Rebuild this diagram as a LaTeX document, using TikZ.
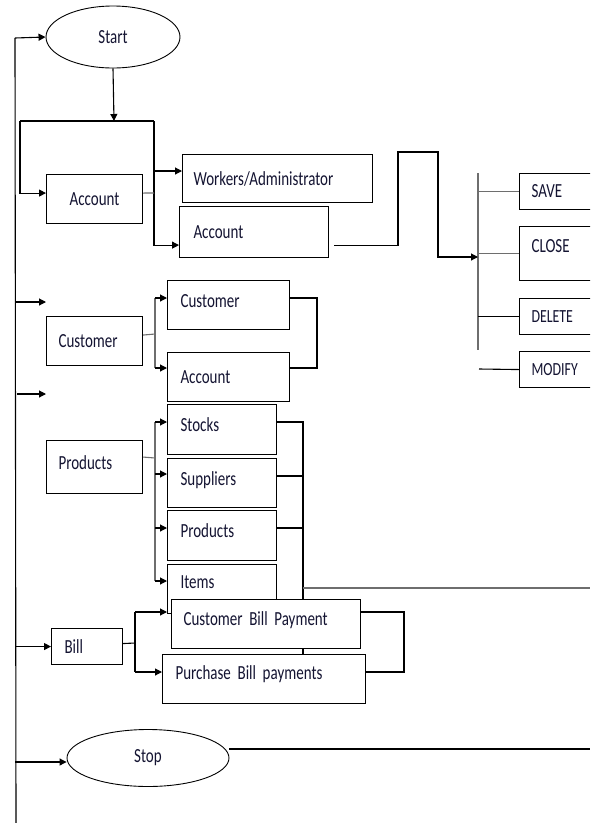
\documentclass[tikz,border=0pt]{standalone}
\usepackage{fontspec}
\setmainfont{Carlito}[FakeStretch=0.75]
\usetikzlibrary{arrows.meta, shapes.geometric}
\definecolor{ink}{RGB}{20,20,50}
\definecolor{linegray}{RGB}{110,110,110}
\newcommand{\labelfont}{\fontsize{20}{22}\selectfont\spaceskip=3.5pt plus 1pt\relax}

\begin{document}
\begin{tikzpicture}[
x=1pt, y=-1pt,
font=\labelfont,
box/.style={
draw,
rectangle,
line width=1.1pt,
fill=white,
text=ink,
inner sep=0 pt,
anchor=north west,
},
lbox/.style={box, align=left, text width=#1},
oval/.style={ellipse, draw, line width=0.9pt, inner sep=0 pt, text=ink},
link/.style={line width=1.1pt},
glink/.style={line width=1.1pt, draw=linegray},
arr/.style={link, -{Triangle[length=7pt, width=7pt]}},
]
\useasboundingbox (0,0) rectangle (590,823);
\clip (0,0) rectangle (590,823);

% main line
\path
(15,38) coordinate(top)
(16,823) coordinate(bot)
;
\node [oval, minimum width=134pt, minimum height=62pt] at (113,37) (start) {Start};
\draw [link] (bot) -- (top);
\draw [arr] (top) -- (start.west);

% account
\node [box, minimum width=96pt, minimum height=49pt] at (46,174) (acc) {Account};
\node [lbox=168pt, minimum width=190pt, minimum height=48pt] at (182,154) (work) {Workers/Administrator};
\node [lbox=121pt, minimum width=149pt, minimum height=51pt] at (179,206) (acc2) {Account};

\path
(114,121) coordinate(fr)
(20,121) coordinate(frl)
(154,121) coordinate(frr)
;
\draw [arr] (start.south) -- (fr);
\draw [link] (frl) -- (frr);
\draw [arr] (frl) |- ([yshift=6pt]acc.west);
\draw [arr] (frr) |- ([yshift=13pt]acc2.south west);
\draw [glink] ([yshift=6pt]acc.east) -- (frr |- 0,193);
\draw [arr] (frr |- 0,171) -- (work.west |- 0,171);

% options
\node [lbox=57pt, minimum width=81pt, minimum height=36pt] at (519,173) (save) {SAVE};
\node [lbox=57pt, minimum width=81pt, minimum height=54pt, text depth=16pt] at (519,226) (close) {CLOSE};
\node [lbox=57pt, minimum width=81pt, minimum height=36pt, font=\fontsize{18.5}{20}\selectfont] at (519,298) (delete) {DELETE};
\node [lbox=57pt, minimum width=81pt, minimum height=36pt, font=\fontsize{18.5}{20}\selectfont] at (519,351) (modify) {MODIFY};

\path
(478,173) coordinate(bustop)
(478,350) coordinate(busbot)
(479,369) coordinate(modl)
;
\draw [glink] (bustop) -- (busbot);
\draw [arr] ([xshift=5pt, yshift=13pt]acc2.south east) -| (398,152) -| (438,257) -- (bustop |- 0,257);
\draw [glink] (bustop |- save.west) -- (save.west);
\draw [glink] (bustop |- close.west) -- (close.west);
\draw [link] (bustop |- delete.west) -- (delete.west);
\draw [link] (modl) -- (modify.west);

% customer
\node [lbox=72pt, minimum width=96pt, minimum height=49pt] at (46,316) (cust) {Customer};
\node [lbox=96pt, minimum width=122pt, minimum height=49pt, text depth=9pt] at (167,280) (cust2) {Customer};
\node [lbox=96pt, minimum width=122pt, minimum height=49pt] at (167,352) (acc3) {Account};

\path
(46,302) coordinate(c1)
(46,394) coordinate(c2)
(155,298) coordinate(cb)
;
\draw [arr] (top |- c1) -- (c1);
\draw [arr] ([xshift=2pt]top |- c2) -- (c2);
\draw [glink] ([yshift=6pt]cust.east) -- (cb |- 0,334);
\draw [glink] (cb) -- (cb |- 0,368);
\draw [arr] (cb) -- (cust2.west |- cb);
\draw [arr] (cb |- 0,368) -- (acc3.west |- 0,368);
\draw [link] (cust2.east |- cb) -| (317,368) -- (acc3.east |- 0,368);

% products
\node [lbox=72pt, minimum width=96pt, minimum height=53pt, text depth=10pt] at (46,440) (prod) {Products};
\node [lbox=83pt, minimum width=109pt, minimum height=50pt, text depth=10pt] at (167,404) (stocks) {Stocks};
\node [lbox=83pt, minimum width=109pt, minimum height=49pt, text depth=10pt] at (167,458) (supp) {Suppliers};
\node [lbox=83pt, minimum width=109pt, minimum height=50pt, text depth=10pt] at (167,510) (prod2) {Products};
\node [lbox=83pt, minimum width=109pt, minimum height=49pt, text depth=14pt] at (167,564) (items) {Items};

\path
(155,422) coordinate(pb)
(303,422) coordinate(sb)
;
\draw [glink] ([yshift=10pt]prod.east) -- (pb |- 0,458);
\draw [glink] (pb) -- (pb |- 0,581);
\draw [arr] (pb) -- (stocks.west |- pb);
\draw [arr] (pb |- 0,474) -- (supp.west |- 0,474);
\draw [arr] (pb |- 0,528) -- (prod2.west |- 0,528);
\draw [arr] (pb |- 0,581) -- (items.west |- 0,581);
\draw [link] (stocks.east |- sb) -- (sb) -- (sb |- 0,660);
\draw [link] (supp.east |- 0,476) -- (sb |- 0,476);
\draw [link] (prod2.east |- 0,528) -- (sb |- 0,528);
\draw [glink] (sb |- 0,588) -- (590,588);

% bill
\node [lbox=45pt, minimum width=71pt, minimum height=36pt] at (51,628) (bill) {Bill};
\node [lbox=165pt, minimum width=189pt, minimum height=49pt, text depth=12pt] at (171,599) (cbp) {Customer Bill Payment};
\node [lbox=177pt, minimum width=203pt, minimum height=49pt, text depth=14pt] at (162,654) (pbp) {Purchase Bill payments};

\path
(135,612) coordinate(bb)
(404,612) coordinate(bc)
;
\draw [arr] (top |- bill.west) -- (bill.west);
\draw [link] ([yshift=3pt]bill.east) -- (bb |- 0,643);
\draw [link] (bb) -- (bb |- 0,672);
\draw [arr] (bb) -- ([xshift=-4pt]cbp.west |- bb);
\draw [arr] (bb |- 0,672) -- (pbp.west |- 0,672);
\draw [link] (cbp.east |- bc) -- (bc) |- (pbp.east |- 0,672);

% stop
\node [oval, minimum width=162pt, minimum height=57pt] at (148,758) (stop) {Stop};
\draw [arr] (top |- 0,762) -- ([yshift=-4pt]stop.west);
\draw [link] ([yshift=9pt]stop.east) -- (590,749);

\end{tikzpicture}
\end{document}
